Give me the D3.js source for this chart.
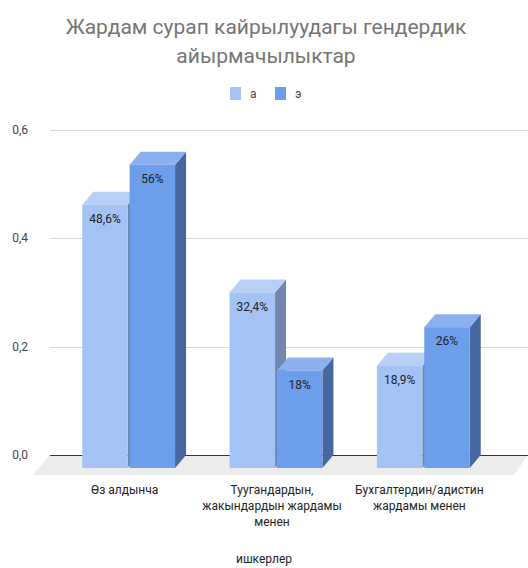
<!DOCTYPE html>
<html>
<head>
<meta charset="utf-8">
<script src="https://cdn.jsdelivr.net/npm/d3@7"></script>
<style>
  body { margin: 0; background: #fff; }
  text { font-family: Roboto, "Liberation Sans", Arial, sans-serif; }
</style>
</head>
<body>
<div id="chart"></div>
<script>
// chart data
var categories = [
  ["Өз алдынча"],
  ["Туугандардын,", "жакындардын жардамы", "менен"],
  ["Бухгалтердин/адистин", "жардамы менен"]
];
var seriesNames = ["а", "э"];
var seriesA = [0.486, 0.324, 0.189];
var seriesE = [0.56, 0.18, 0.26];
var valueLabelsA = ["48,6%", "32,4%", "18,9%"];
var valueLabelsE = ["56%", "18%", "26%"];
var yTicks = [0, 0.2, 0.4, 0.6];
var yTickLabels = ["0,0", "0,2", "0,4", "0,6"];

(function () {
  var width = 528, height = 568;
  var depthX = 11, depthY = 13;   // 3d offset of the bars

  var svg = d3.select("#chart").append("svg")
      .attr("width", width)
      .attr("height", height);

  var colors = {
    "а": { front: "#a4c2f4", top: "#b8cff6", side: "#7287ad" },
    "э": { front: "#6d9eeb", top: "#8ab0ef", side: "#46679f" }
  };

  var rows = categories.map(function (c, i) {
    return { key: i, label: c,
      vals: [{ s: "а", v: seriesA[i], t: valueLabelsA[i] },
             { s: "э", v: seriesE[i], t: valueLabelsE[i] }] };
  });

  // front plane scales
  var x0 = d3.scaleBand().domain(rows.map(function (d) { return d.key; }))
      .range([55, 497]).paddingInner(0.37).paddingOuter(0.185);
  var x1 = d3.scaleBand().domain(seriesNames)
      .range([0, x0.bandwidth()]).paddingInner(0.04);
  var yFront = d3.scaleLinear().domain([0, 0.6]).range([468, 143]);
  // back plane (gridlines)
  var yBack = d3.scaleLinear().domain([0, 0.6]).range([468 - depthY, 143 - depthY]);

  // title
  svg.append("text").attr("x", 266).attr("y", 34)
      .attr("text-anchor", "middle").style("font-size", "21px").style("fill", "#757575")
      .text("Жардам сурап кайрылуудагы гендердик");
  svg.append("text").attr("x", 266).attr("y", 63)
      .attr("text-anchor", "middle").style("font-size", "21px").style("fill", "#757575")
      .text("айырмачылыктар");

  // legend
  var legend = svg.append("g").selectAll("g").data(seriesNames).enter().append("g")
      .attr("transform", function (d, i) { return "translate(" + (230 + i * 45) + ",87)"; });
  legend.append("rect").attr("width", 11).attr("height", 13)
      .attr("fill", function (d) { return colors[d].front; });
  legend.append("text").attr("x", 20).attr("y", 11)
      .style("font-size", "12px").style("fill", "#444").text(function (d) { return d; });

  // floor
  var f0 = yBack(0);
  svg.append("path")
      .attr("d", "M50," + f0 + "L" + width + "," + f0 + "L514," + (f0 + 20) + "L33," + (f0 + 20) + "Z")
      .attr("fill", "#ececec");

  // gridlines
  svg.append("g").selectAll("line").data(yTicks).enter().append("line")
      .attr("x1", 50).attr("x2", width)
      .attr("y1", function (d) { return Math.round(yBack(d)) + 0.5; })
      .attr("y2", function (d) { return Math.round(yBack(d)) + 0.5; })
      .attr("stroke", function (d) { return d === 0 ? "#333" : "#d9d9d9"; })
      .attr("stroke-width", 1);

  // y labels
  svg.append("g").selectAll("text").data(yTicks).enter().append("text")
      .attr("x", 28).attr("y", function (d) { return yBack(d) + 4; })
      .attr("text-anchor", "end").style("font-size", "12px").style("fill", "#444")
      .text(function (d, i) { return yTickLabels[i]; });

  // bars
  var groups = svg.append("g").selectAll("g").data(rows).enter().append("g")
      .attr("transform", function (d) { return "translate(" + x0(d.key) + ",0)"; });

  var bars = groups.selectAll("g").data(function (d) { return d.vals; }).enter().append("g");
  var bw = x1.bandwidth();

  bars.append("path") // side face
      .attr("d", function (d) {
        var xr = x1(d.s) + bw, yt = yFront(d.v), yb = yFront(0);
        return "M" + xr + "," + yt + "L" + (xr + depthX) + "," + (yt - depthY) +
               "L" + (xr + depthX) + "," + (yb - depthY) + "L" + xr + "," + yb + "Z";
      })
      .attr("fill", function (d) { return colors[d.s].side; });
  bars.append("path") // top face
      .attr("d", function (d) {
        var xl = x1(d.s), yt = yFront(d.v);
        return "M" + xl + "," + yt + "L" + (xl + depthX) + "," + (yt - depthY) +
               "L" + (xl + bw + depthX) + "," + (yt - depthY) + "L" + (xl + bw) + "," + yt + "Z";
      })
      .attr("fill", function (d) { return colors[d.s].top; });
  bars.append("rect") // front face
      .attr("x", function (d) { return x1(d.s); })
      .attr("y", function (d) { return yFront(d.v); })
      .attr("width", bw)
      .attr("height", function (d) { return yFront(0) - yFront(d.v); })
      .attr("fill", function (d) { return colors[d.s].front; });
  bars.append("text")
      .attr("x", function (d) { return x1(d.s) + bw / 2; })
      .attr("y", function (d) { return yFront(d.v) + 18; })
      .attr("text-anchor", "middle").style("font-size", "12px").style("fill", "#222")
      .text(function (d) { return d.t; });

  // category labels
  var cat = svg.append("g").selectAll("text").data(rows).enter().append("text")
      .attr("text-anchor", "middle").style("font-size", "12px").style("fill", "#222")
      .attr("transform", function (d) { return "translate(" + (x0(d.key) + x0.bandwidth() / 2 - 4) + ",494)"; });
  cat.selectAll("tspan").data(function (d) { return d.label; }).enter().append("tspan")
      .attr("x", 0).attr("dy", function (d, i) { return i === 0 ? 0 : 16; })
      .text(function (d) { return d; });

  // axis title
  svg.append("text").attr("x", 264).attr("y", 563)
      .attr("text-anchor", "middle").style("font-size", "12px").style("fill", "#222")
      .text("ишкерлер");
})();
</script>
</body>
</html>
